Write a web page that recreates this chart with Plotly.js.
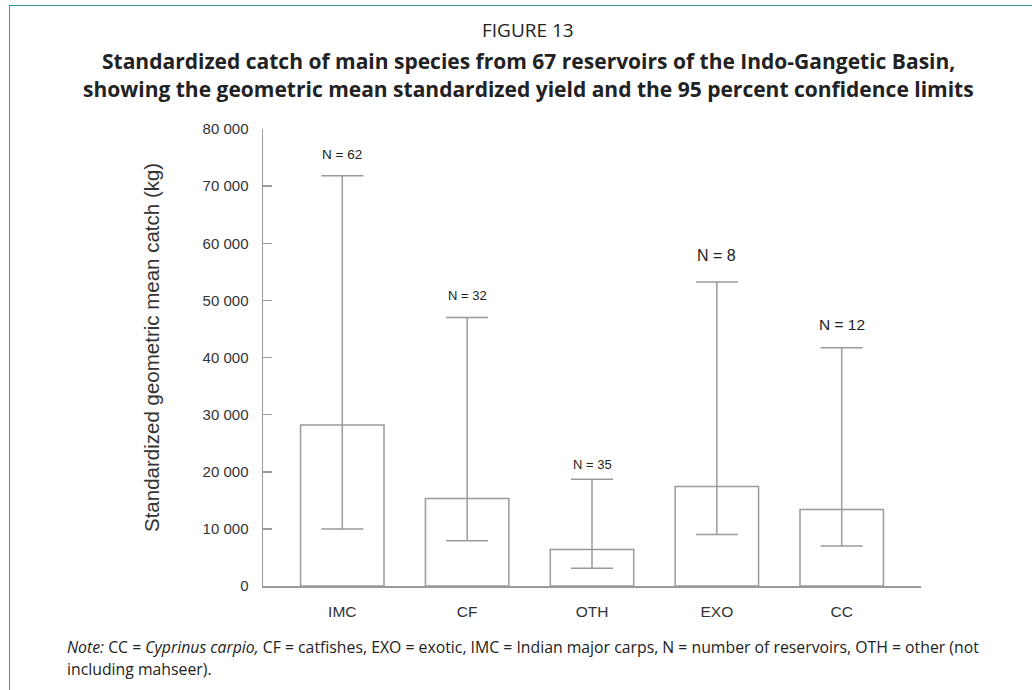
<!DOCTYPE html>
<html>
<head>
<meta charset="utf-8">
<script src="https://cdn.plot.ly/plotly-3.0.1.min.js"></script>
<style>
  html, body { margin: 0; padding: 0; background: #fff; }
  #wrap { position: relative; width: 1032px; height: 690px; }
  #chart { width: 1032px; height: 690px; }
  #frame { position: absolute; left: 9px; top: 5px; right: 0; bottom: 0;
           border-top: 1.5px solid #2a9d9a; border-left: 1.5px solid #2a9d9a;
           pointer-events: none; }
</style>
</head>
<body>
<div id="wrap">
  <div id="chart"></div>
  <div id="frame"></div>
</div>
<script>
// ---- data ----
const categories = ["IMC", "CF", "OTH", "EXO", "CC"];
const meanCatch  = [28200, 15300, 6400, 17400, 13400];
const upperLimit = [71800, 47000, 18700, 53200, 41700];
const lowerLimit = [10000, 7900, 3100, 9000, 7000];
const nLabels    = ["N = 62", "N = 32", "N = 35", "N = 8", "N = 12"];
const yTicks     = [0, 10000, 20000, 30000, 40000, 50000, 60000, 70000, 80000];

// ---- layout geometry ----
const W = 1032, H = 690;
const M = { l: 263, r: 111, t: 129, b: 104 };
const plotH = H - M.t - M.b;
const plotW = W - M.l - M.r;
const py = y => (H - M.b - y) / plotH;   // pixel y -> paper y
const px = x => (x - M.l) / plotW;       // pixel x -> paper x

const grey = "#9a9a9a";

const trace = {
  type: "bar",
  x: categories,
  y: meanCatch,
  marker: { color: "#ffffff", line: { color: grey, width: 1.5 } },
  error_y: {
    type: "data",
    symmetric: false,
    array: upperLimit.map((u, i) => u - meanCatch[i]),
    arrayminus: lowerLimit.map((l, i) => meanCatch[i] - l),
    color: grey,
    thickness: 1.5,
    width: 21
  },
  hoverinfo: "skip",
  showlegend: false
};

const nFont = [13.5, 13, 13, 16, 15.5];
const nShift = [21, 22, 15, 27, 23];
const annotations = categories.map((c, i) => ({
  x: c, y: upperLimit[i], xref: "x", yref: "y",
  text: nLabels[i], showarrow: false,
  yanchor: "middle", yshift: nShift[i],
  font: { family: "Liberation Sans, Arial, sans-serif", size: nFont[i], color: "#222" }
}));

const titleX = px(528);
annotations.push(
  { xref: "paper", yref: "paper", x: titleX, y: py(30), xanchor: "center", yanchor: "middle",
    showarrow: false, text: "FIGURE 13",
    font: { family: "Open Sans, sans-serif", size: 19, color: "#222" } },
  { xref: "paper", yref: "paper", x: titleX, y: py(61), xanchor: "center", yanchor: "middle",
    showarrow: false, text: "<b>Standardized catch of main species from 67 reservoirs of the Indo-Gangetic Basin,</b>",
    font: { family: "Open Sans, sans-serif", size: 21, color: "#222" } },
  { xref: "paper", yref: "paper", x: titleX, y: py(89), xanchor: "center", yanchor: "middle",
    showarrow: false, text: "<b>showing the geometric mean standardized yield and the 95 percent confidence limits</b>",
    font: { family: "Open Sans, sans-serif", size: 21, color: "#222" } },
  { xref: "paper", yref: "paper", x: px(151), y: py(348), xanchor: "center", yanchor: "middle",
    showarrow: false, textangle: -90, text: "Standardized geometric mean catch (kg)",
    font: { family: "Liberation Sans, Arial, sans-serif", size: 20.5, color: "#333" } },
  { xref: "paper", yref: "paper", x: px(65), y: py(647), xanchor: "left", yanchor: "middle",
    showarrow: false,
    text: "<i>Note:</i> CC = <i>Cyprinus carpio,</i> CF = catfishes, EXO = exotic, IMC = Indian major carps, N = number of reservoirs, OTH = other (not",
    font: { family: "Open Sans, sans-serif", size: 15.8, color: "#222" } },
  { xref: "paper", yref: "paper", x: px(65), y: py(669), xanchor: "left", yanchor: "middle",
    showarrow: false, text: "including mahseer).",
    font: { family: "Open Sans, sans-serif", size: 15.8, color: "#222" } }
);

const layout = {
  width: W, height: H,
  margin: M,
  paper_bgcolor: "#ffffff",
  plot_bgcolor: "#ffffff",
  separators: ". ",
  bargap: 0.332,
  font: { family: "Liberation Sans, Arial, sans-serif", size: 15, color: "#333" },
  xaxis: {
    type: "category",
    range: [-0.635, 4.635],
    showline: true, linecolor: grey, linewidth: 1.5,
    ticks: "", showgrid: false, zeroline: false,
    ticklabelstandoff: 11,
    tickfont: { size: 15.5, color: "#333" }
  },
  yaxis: {
    range: [0, 80000],
    tickvals: yTicks,
    tickformat: ",d",
    showline: true, linecolor: grey, linewidth: 1.5,
    ticks: "inside", ticklen: 9, tickcolor: grey, tickwidth: 1.5,
    showgrid: false, zeroline: false,
    ticklabelstandoff: 10,
    tickfont: { size: 15, color: "#333" }
  },
  annotations: annotations
};

Plotly.newPlot("chart", [trace], layout, { staticPlot: true, displayModeBar: false });
</script>
</body>
</html>
